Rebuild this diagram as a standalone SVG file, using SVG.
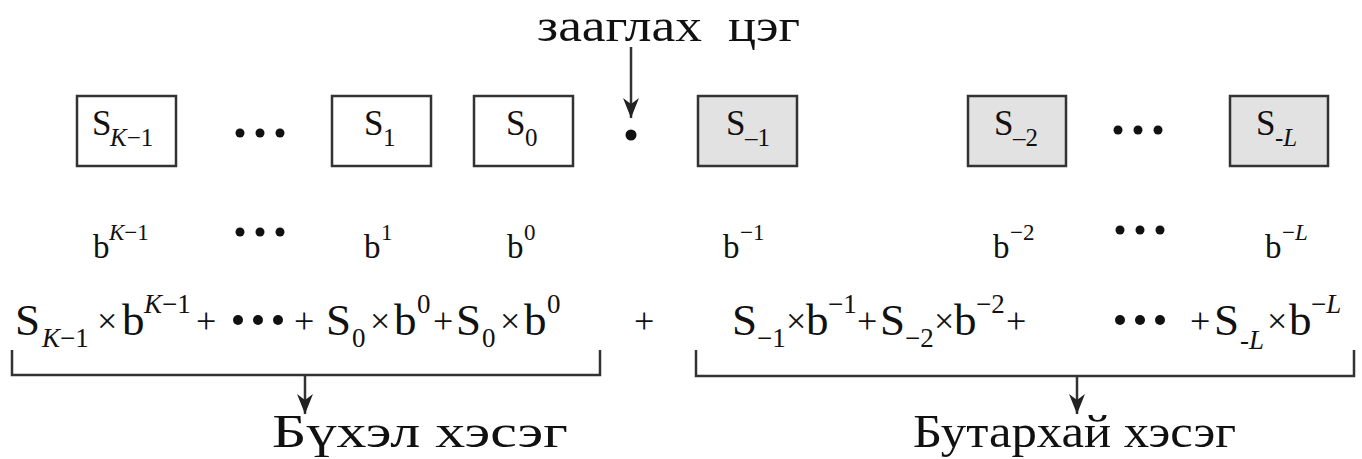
<svg xmlns="http://www.w3.org/2000/svg" width="1362" height="459" viewBox="0 0 1362 459">
<style>
text{font-family:"Liberation Serif","Times New Roman",serif;fill:#111}
.big{font-size:47px}
.bs{font-size:35px}
.bsub{font-size:25px}
.r2{font-size:33px}
.r2s{font-size:23px}
.r3{font-size:45px}
.r3s{font-size:27px}
.op{font-size:36px}
.it{font-style:italic}
.box{fill:#fff;stroke:#333;stroke-width:2.5}
.gbox{fill:#e2e2e2;stroke:#333;stroke-width:2.5}
.ln{fill:none;stroke:#333;stroke-width:2.5}
.dot{fill:#111}
</style>
<defs>
<marker id="ah2" markerUnits="userSpaceOnUse" markerWidth="22" markerHeight="16" refX="20" refY="8" orient="auto" viewBox="0 0 22 16">
<path d="M0,0 L20,8 L0,16 L6,8 Z" fill="#222"/>
</marker>
</defs>

<g id="title">
<text class="big" x="537" y="41" textLength="165" lengthAdjust="spacingAndGlyphs">зааглах</text>
<text class="big" x="728" y="41" textLength="72" lengthAdjust="spacingAndGlyphs">цэг</text>
</g>

<g id="node-sk1"><rect class="box" x="77" y="96" width="99" height="70"/><text class="bs" x="92" y="135">S</text><text class="bsub" x="110" y="146"><tspan class="it">K</tspan>−1</text></g>
<g id="dots1"><circle class="dot" cx="240" cy="133" r="4.5"/><circle class="dot" cx="260" cy="133" r="4.5"/><circle class="dot" cx="280" cy="133" r="4.5"/></g>
<g id="node-s1"><rect class="box" x="332" y="96" width="99" height="70"/><text class="bs" x="364" y="135">S</text><text class="bsub" x="383" y="146">1</text></g>
<g id="node-s0"><rect class="box" x="474" y="96" width="99" height="70"/><text class="bs" x="506" y="135">S</text><text class="bsub" x="525" y="146">0</text></g>
<g id="point"><circle class="dot" cx="631" cy="135" r="5.5"/></g>
<g id="node-sm1"><rect class="gbox" x="698" y="96" width="99" height="70"/><text class="bs" x="726" y="135">S</text><text class="bsub" x="745" y="146">–1</text></g>
<g id="node-sm2"><rect class="gbox" x="968" y="96" width="98" height="70"/><text class="bs" x="994" y="135">S</text><text class="bsub" x="1013" y="146">–2</text></g>
<g id="dots2"><circle class="dot" cx="1118" cy="130" r="4.5"/><circle class="dot" cx="1138" cy="130" r="4.5"/><circle class="dot" cx="1158" cy="130" r="4.5"/></g>
<g id="node-sml"><rect class="gbox" x="1230" y="96" width="98" height="70"/><text class="bs" x="1256" y="135">S</text><text class="bsub" x="1275" y="146">-<tspan class="it">L</tspan></text></g>

<g id="row2">
<text class="r2" x="93" y="258">b</text><text class="r2s" x="109" y="240"><tspan class="it">K</tspan>−1</text>
<circle class="dot" cx="240" cy="232" r="4.5"/><circle class="dot" cx="260" cy="232" r="4.5"/><circle class="dot" cx="280" cy="232" r="4.5"/>
<text class="r2" x="364" y="258">b</text><text class="r2s" x="381" y="240">1</text>
<text class="r2" x="507" y="258">b</text><text class="r2s" x="524" y="240">0</text>
<text class="r2" x="723" y="258">b</text><text class="r2s" x="740" y="240">−1</text>
<text class="r2" x="993" y="258">b</text><text class="r2s" x="1010" y="240">−2</text>
<circle class="dot" cx="1120" cy="230" r="4.5"/><circle class="dot" cx="1140" cy="230" r="4.5"/><circle class="dot" cx="1160" cy="230" r="4.5"/>
<text class="r2" x="1265" y="258">b</text><text class="r2s" x="1282" y="240">−<tspan class="it">L</tspan></text>
</g>

<g id="formula-left">
<text class="r3" x="15" y="335">S</text><text class="r3s" x="42" y="347"><tspan class="it">K</tspan>−1</text>
<text class="op" x="97" y="333">×</text>
<text class="r3" x="122" y="335">b</text><text class="r3s" x="144" y="313"><tspan class="it">K</tspan>−1</text>
<text class="op" x="196" y="333">+</text>
<circle class="dot" cx="238" cy="320" r="5"/><circle class="dot" cx="258" cy="320" r="5"/><circle class="dot" cx="278" cy="320" r="5"/>
<text class="op" x="294" y="333">+</text>
<text class="r3" x="326" y="335">S</text><text class="r3s" x="352" y="347">0</text>
<text class="op" x="370" y="333">×</text>
<text class="r3" x="394" y="335">b</text><text class="r3s" x="417" y="313">0</text>
<text class="op" x="433" y="333">+</text>
<text class="r3" x="456" y="335">S</text><text class="r3s" x="482" y="347">0</text>
<text class="op" x="500" y="333">×</text>
<text class="r3" x="524" y="335">b</text><text class="r3s" x="547" y="313">0</text>
<text class="op" x="634" y="333">+</text>
</g>

<g id="formula-right">
<text class="r3" x="732" y="335">S</text><text class="r3s" x="757" y="347">−1</text>
<text class="op" x="786" y="333">×</text>
<text class="r3" x="806" y="335">b</text><text class="r3s" x="828" y="313">−1</text>
<text class="op" x="857" y="333">+</text>
<text class="r3" x="880" y="335">S</text><text class="r3s" x="905" y="347">−2</text>
<text class="op" x="934" y="333">×</text>
<text class="r3" x="954" y="335">b</text><text class="r3s" x="976" y="313">−2</text>
<text class="op" x="1006" y="333">+</text>
<circle class="dot" cx="1120" cy="320" r="5"/><circle class="dot" cx="1140" cy="320" r="5"/><circle class="dot" cx="1160" cy="320" r="5"/>
<text class="op" x="1190" y="333">+</text>
<text class="r3" x="1214" y="335">S</text><text class="r3s" x="1240" y="349">-<tspan class="it">L</tspan></text>
<text class="op" x="1267" y="333">×</text>
<text class="r3" x="1289" y="335">b</text><text class="r3s" x="1311" y="313">−<tspan class="it">L</tspan></text>
</g>

<g id="connectors">
<line class="ln" x1="631" y1="47" x2="631" y2="118" marker-end="url(#ah2)"/>
<path class="ln" d="M12,350 V375 H600 V350"/>
<path class="ln" d="M696,350 V376 H1354 V350"/>
<line class="ln" x1="305" y1="375" x2="305" y2="414" marker-end="url(#ah2)"/>
<line class="ln" x1="1077" y1="376" x2="1077" y2="414" marker-end="url(#ah2)"/>
</g>

<g id="labels">
<text class="big" x="272" y="447" textLength="296" lengthAdjust="spacingAndGlyphs">Бүхэл хэсэг</text>
<text class="big" x="913" y="447" textLength="323" lengthAdjust="spacingAndGlyphs">Бутархай хэсэг</text>
</g>
</svg>
